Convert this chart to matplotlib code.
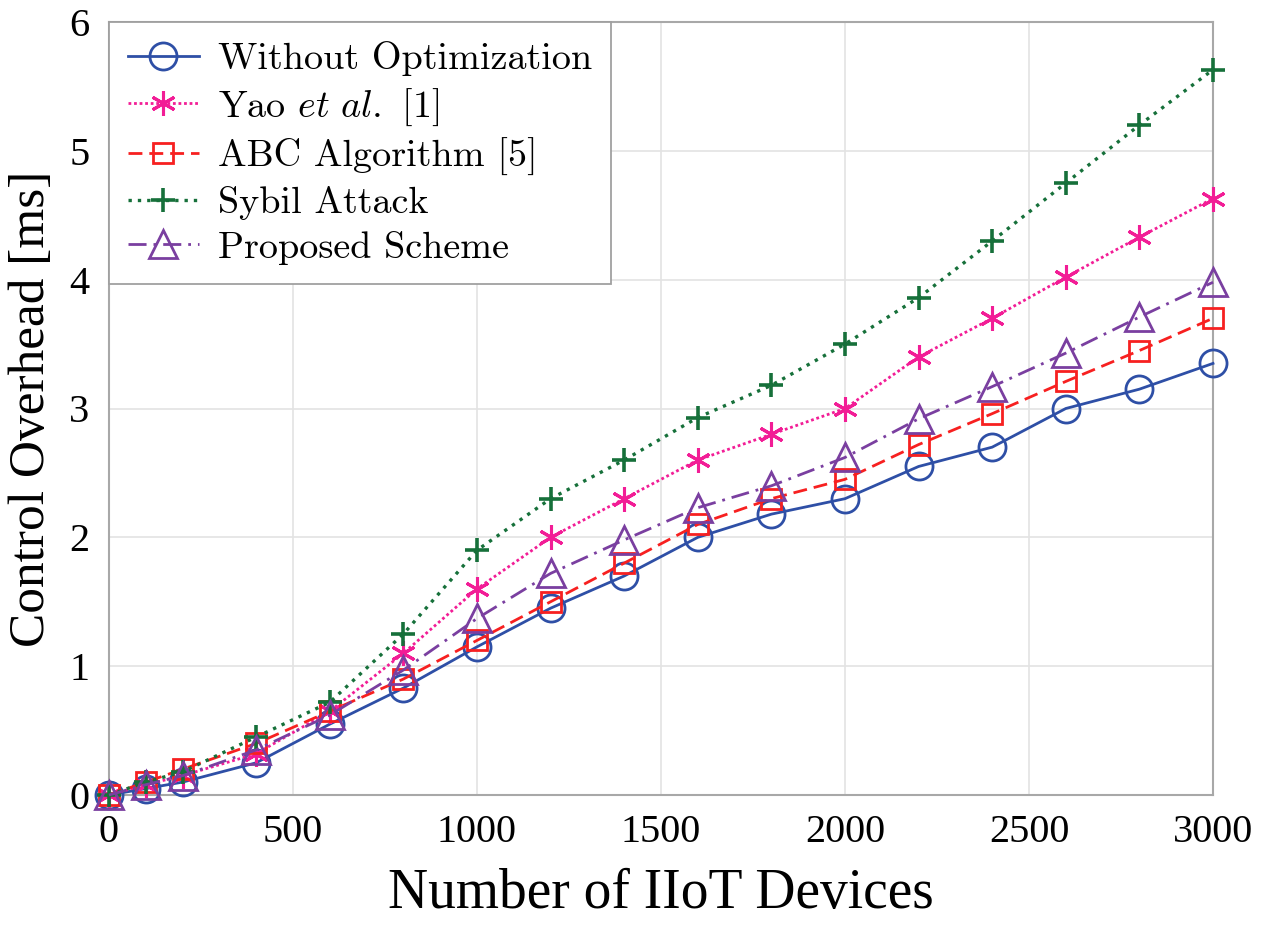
import matplotlib
matplotlib.use("Agg")
import matplotlib.pyplot as plt

x_devices = [0, 100, 200, 400, 600, 800, 1000, 1200, 1400, 1600, 1800, 2000, 2200, 2400, 2600, 2800, 3000]
without_opt = [0.0, 0.05, 0.1, 0.25, 0.55, 0.83, 1.15, 1.45, 1.7, 2.0, 2.18, 2.3, 2.55, 2.7, 3.0, 3.15, 3.35]
yao = [0.0, 0.08, 0.15, 0.32, 0.65, 1.1, 1.6, 2.0, 2.3, 2.6, 2.8, 3.0, 3.4, 3.7, 4.02, 4.33, 4.63]
abc = [0.0, 0.1, 0.2, 0.4, 0.65, 0.9, 1.2, 1.5, 1.8, 2.1, 2.3, 2.45, 2.72, 2.96, 3.21, 3.45, 3.7]
sybil = [0.0, 0.1, 0.18, 0.45, 0.72, 1.25, 1.9, 2.3, 2.6, 2.93, 3.18, 3.5, 3.86, 4.3, 4.75, 5.2, 5.63]
proposed = [0.0, 0.08, 0.15, 0.35, 0.62, 0.97, 1.37, 1.72, 1.98, 2.23, 2.4, 2.62, 2.92, 3.17, 3.43, 3.71, 3.98]

labels = ["Without Optimization", r"Yao $\mathit{et\ al.}$ [1]", "ABC Algorithm [5]", "Sybil Attack", "Proposed Scheme"]
x_ticks = [0, 500, 1000, 1500, 2000, 2500, 3000]
y_ticks = [0, 1, 2, 3, 4, 5, 6]

plt.rcParams['mathtext.fontset'] = 'cm'

fig = plt.figure(figsize=(12.75, 9.25), dpi=100)
ax = fig.add_axes([109/1275, 1 - 795/925, (1213-109)/1275, (795-22)/925])

lw = 2.0
ax.plot(x_devices, without_opt, color='#2E4FA6', linestyle='-', linewidth=lw,
        marker='o', markersize=19.5, markerfacecolor='none', markeredgewidth=2.0, label=labels[0], zorder=3)
ax.plot(x_devices, yao, color='#F21D96', linestyle=(0, (1, 1)), linewidth=lw,
        marker=(6, 2, 0), markersize=18, markeredgewidth=2.2, label=labels[1], zorder=3)
ax.plot(x_devices, abc, color='#F72020', linestyle=(0, (5, 2.5)), linewidth=lw,
        marker='s', markersize=15, markerfacecolor='none', markeredgewidth=2.0, label=labels[2], zorder=3)
ax.plot(x_devices, sybil, color='#16703A', linestyle=(0, (1, 1.8)), linewidth=2.4,
        marker='+', markersize=17, markeredgewidth=2.6, label=labels[3], zorder=3)
ax.plot(x_devices, proposed, color='#7A3FA0', linestyle=(0, (6.5, 2.5, 1, 2.5)), linewidth=lw,
        marker='^', markersize=19.5, markerfacecolor='none', markeredgewidth=2.0, label=labels[4], zorder=3)

for ln in ax.lines:
    ln.set_clip_on(False)

ax.set_xlim(0, 3000)
ax.set_ylim(0, 6)
ax.set_xticks(x_ticks)
ax.set_yticks(y_ticks)
ax.grid(True, color='#E3E3E3', linewidth=1.2)
ax.set_axisbelow(True)
for s in ax.spines.values():
    s.set_color('#A8A8A8')
    s.set_linewidth(1.5)
ax.tick_params(length=0, pad=14, labelsize=29)
for t in ax.get_xticklabels() + ax.get_yticklabels():
    t.set_fontfamily('Liberation Serif')

ax.set_xlabel("Number of IIoT Devices", fontfamily='Liberation Serif', fontsize=40, labelpad=12)
ax.set_ylabel("Control Overhead [ms]", fontfamily='Liberation Serif', fontsize=37, labelpad=10)

leg = ax.legend(loc='upper left', borderaxespad=0, fancybox=False, framealpha=1,
                edgecolor='#A0A0A0', prop={'family': 'cmr10', 'size': 27.5},
                handlelength=1.85, handletextpad=0.5, borderpad=0.5, labelspacing=0.27)
leg.get_frame().set_linewidth(1.3)

fig.savefig("out.png", dpi=100)
